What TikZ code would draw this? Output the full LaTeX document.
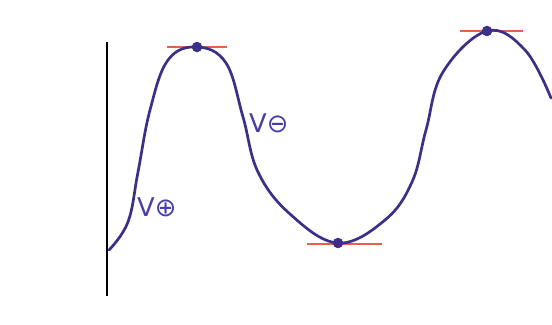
\documentclass[tikz,border=0pt]{standalone}
\usepackage{fontspec}
\newfontfamily\labelfont{DejaVu Sans}
\usetikzlibrary{positioning}
\definecolor{inkblue}{RGB}{58, 48, 135}
\definecolor{labelblue}{RGB}{72, 62, 170}
\definecolor{tanred}{RGB}{232, 96, 72}

\begin{document}
\begin{tikzpicture}[
      x=0.03cm, y=-0.03cm,
      curve/.style={inkblue, line width=2.3pt, line cap=round, line join=round},
      axis/.style={black, line width=1.8pt},
      tangent/.style={tanred, line width=1.5pt},
      extremum/.style={circle, fill=inkblue, inner sep=0pt, minimum size=9pt},
      sign/.style={text=labelblue, font=\labelfont\fontsize{22}{26}\selectfont, inner sep=0pt}
  ]
  \useasboundingbox (0,0) rectangle (552,324);

  % axis
  \coordinate (axtop) at (107,42);
  \coordinate (axbot) at (107,296);
  \draw[axis] (axtop) -- (axbot);

  % extrema
  \coordinate (max1) at (197,47);
  \coordinate (min1) at (338,243);
  \coordinate (max2) at (487,31);

  % tangents
  \draw[tangent] (max1) +(-30,0) -- +(30,0);
  \draw[tangent] (min1) +(-31,1) -- +(44,1);
  \draw[tangent] (max2) +(-27,0) -- +(36,0);

  % the wave
  \draw[curve] plot[smooth, tension=0.65] coordinates {
      (109,250) (128,222) (138,172) (150,110) (168,60) (197,47)
      (226,63) (243,117) (258,172) (290,214) (338,243) (385,220)
      (412,182) (426,130) (443,72) (487,31) (525,50) (551,98)};

  \node[extremum] (dotA) at (max1) {};
  \node[extremum] (dotB) at (min1) {};
  \node[extremum] (dotC) at (max2) {};

  % labels
  \node[sign, anchor=west] (plus) at (137,207) {V⊕};
  \node[sign, anchor=west] (minus) at (249,123) {V⊖};
\end{tikzpicture}
\end{document}
